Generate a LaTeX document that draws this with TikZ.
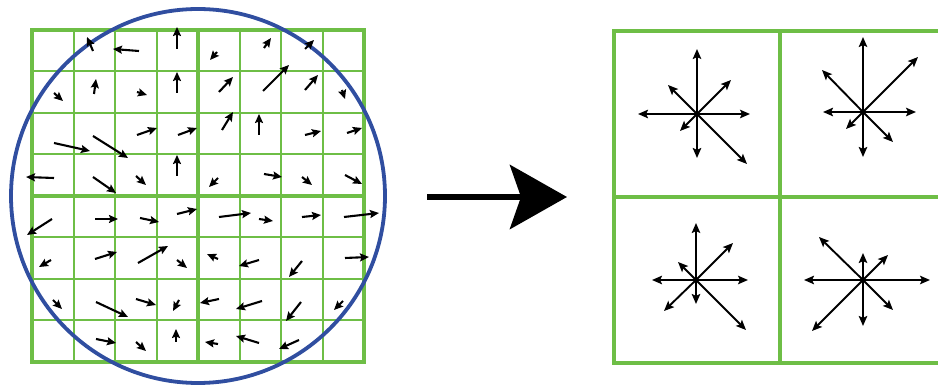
\documentclass[tikz,border=0pt]{standalone}
\usetikzlibrary{arrows.meta}
\definecolor{gridgreen}{RGB}{110,190,70}
\definecolor{circblue}{RGB}{48,78,160}
\tikzset{
  thingrid/.style={draw=gridgreen, line width=2pt},
  thickgrid/.style={draw=gridgreen, line width=4.8pt},
  bluecirc/.style={draw=circblue, line width=3.8pt},
  vec/.style={draw=black, line width=2.1pt, -{Stealth[length=9pt,width=8pt,inset=1.5pt]}},
  starvec/.style={draw=black, line width=1.9pt, -{Stealth[length=10pt,width=8.5pt,inset=2pt]}},
  bigarrow/.style={draw=black, line width=6.5pt, -{Stealth[length=57pt,width=64pt,inset=11pt]}}
}
\begin{document}
\begin{tikzpicture}[x=1pt,y=-1pt]
\useasboundingbox (0,0) rectangle (938,387);
\clip (0,0) rectangle (938,387);
% left grid
\foreach \i in {1,2,3,5,6,7}{
  \draw[thingrid] ({32+41.5*\i},30) -- ({32+41.5*\i},362);
  \draw[thingrid] (32,{30+41.5*\i}) -- (364,{30+41.5*\i});
}
\draw[thickgrid] (32,30) rectangle (364,362);
\draw[thickgrid] (198,30) -- (198,362);
\draw[thickgrid] (32,196) -- (364,196);
% circle
\draw[bluecirc] (198,196) circle[radius=187];
% flow vectors
\foreach \ax/\ay/\bx/\by in {
 93/51/87/37, 139/51/113/49, 177/49/177/27, 217/52/210/60, 264/48/271/38, 305/49/314/40,
 54/93/63/101, 94/94/96/79, 137/92/147/95, 177/93/177/72, 219/92/233/77, 263/91/289/65, 305/90/318/75, 342/90/345/99,
 54/143/90/151, 93/136/128/158, 137/135/157/128, 178/135/197/128, 222/130/233/112, 259/135/259/114, 305/135/321/131, 347/133/362/128,
 54/178/26/177, 93/177/116/193, 136/176/146/185, 177/176/177/155, 218/178/209/187, 264/174/282/177, 302/177/312/185, 345/175/362/184,
 52/219/27/235, 95/219/118/219, 140/218/159/222, 177/214/197/209, 219/217/251/213, 259/219/273/221, 302/217/321/215, 344/217/379/213,
 51/260/39/267, 95/259/117/252, 138/263/168/246, 177/260/187/268, 218/259/207/254, 259/260/239/266, 302/261/289/277, 345/258/369/257,
 53/300/62/309, 96/302/128/317, 136/299/156/305, 179/300/173/311, 219/299/200/303, 262/301/236/309, 301/302/286/321, 343/301/334/310,
 96/339/116/343, 136/342/146/351, 176/342/176/329, 218/344/205/342, 259/343/236/336, 299/340/279/349}{
  \coordinate (t) at (\ax,\ay);
  \coordinate (h) at (\bx,\by);
  \draw[vec] (t) -- (h);
}
% big arrow
\coordinate (bigA) at (427,197);
\coordinate (bigB) at (567,197);
\draw[bigarrow] (bigA) -- (bigB);
% right grid
\draw[thickgrid] (614,31) rectangle (946,363);
\draw[thickgrid] (780,31) -- (780,363);
\draw[thickgrid] (614,197) -- (946,197);
% star histograms
\coordinate (c1) at (697,114);
\foreach \x/\y in {697/49, 697/158, 638/114, 750/114, 731/80, 668/85, 680/131, 747/164}{
  \coordinate (e) at (\x,\y); \draw[starvec] (c1) -- (e);}
\coordinate (c2) at (863,112);
\foreach \x/\y in {863/37, 863/157, 823/112, 916/112, 918/57, 822/70, 846/129, 893/142}{
  \coordinate (e) at (\x,\y); \draw[starvec] (c2) -- (e);}
\coordinate (c3) at (696,280);
\foreach \x/\y in {696/223, 696/304, 652/280, 748/280, 733/243, 678/262, 664/311, 746/330}{
  \coordinate (e) at (\x,\y); \draw[starvec] (c3) -- (e);}
\coordinate (c4) at (863,280);
\foreach \x/\y in {863/253, 863/326, 804/280, 930/280, 888/255, 819/237, 812/331, 893/310}{
  \coordinate (e) at (\x,\y); \draw[starvec] (c4) -- (e);}
\end{tikzpicture}
\end{document}
